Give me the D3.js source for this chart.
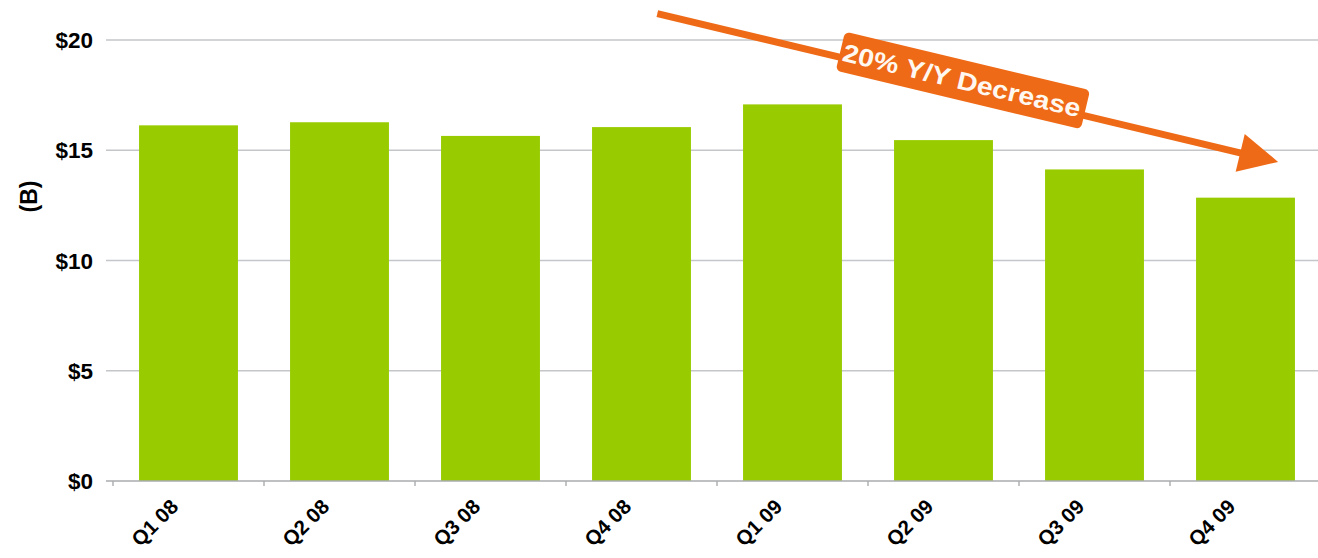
<!DOCTYPE html>
<html>
<head>
<meta charset="utf-8">
<script src="https://cdn.jsdelivr.net/npm/d3@7"></script>
<style>
  body { margin: 0; background: #ffffff; }
  svg { display: block; }
  text { font-family: "Liberation Sans", Arial, sans-serif; font-weight: bold; }
</style>
</head>
<body>
<svg id="chart" width="1318" height="558"></svg>
<script>
// Quarterly revenue, billions of dollars
const quarters = ["Q1 08", "Q2 08", "Q3 08", "Q4 08", "Q1 09", "Q2 09", "Q3 09", "Q4 09"];
const revenue = [16.13, 16.27, 15.65, 16.05, 17.08, 15.46, 14.13, 12.85];
const yTicks = [0, 5, 10, 15, 20];
const yTickLabels = ["$0", "$5", "$10", "$15", "$20"];
const yAxisTitle = "(B)";

// Trend annotation: arrow endpoints given as (quarter, fraction of bar width, value)
const trendLabel = "20% Y/Y Decrease";
const trendStart = { quarter: "Q4 08", at: 0.66, value: 21.2 };
const trendEnd = { quarter: "Q4 09", at: 0.83, value: 14.47 };

const svg = d3.select("#chart");
const plotLeft = 113, plotRight = 1321, plotTop = 40, plotBottom = 481;

const x = d3.scaleBand()
  .domain(quarters)
  .range([plotLeft, plotRight])
  .paddingInner(0.345)
  .paddingOuter(0.1725);

const y = d3.scaleLinear()
  .domain([0, 20])
  .range([plotBottom, plotTop]);

// Horizontal gridlines
svg.append("g")
  .selectAll("line")
  .data(yTicks.filter(t => t > 0))
  .join("line")
  .attr("x1", plotLeft - 7)
  .attr("x2", 1318)
  .attr("y1", d => y(d))
  .attr("y2", d => y(d))
  .attr("stroke", "#c4c6c9")
  .attr("stroke-width", 1.3);

// Y tick labels
svg.append("g")
  .selectAll("text")
  .data(yTicks)
  .join("text")
  .attr("x", 93)
  .attr("y", d => y(d))
  .attr("dy", "0.36em")
  .attr("text-anchor", "end")
  .attr("font-size", 22.5)
  .attr("fill", "#000")
  .text((d, i) => yTickLabels[i]);

// Y axis title
svg.append("text")
  .attr("transform", `translate(37, ${y(12.9)}) rotate(-90)`)
  .attr("text-anchor", "middle")
  .attr("font-size", 23)
  .attr("fill", "#000")
  .text(yAxisTitle);

// Bars
svg.append("g")
  .selectAll("rect")
  .data(revenue)
  .join("rect")
  .attr("x", (d, i) => x(quarters[i]))
  .attr("y", d => y(d))
  .attr("width", x.bandwidth())
  .attr("height", d => y(0) - y(d))
  .attr("fill", "#99cc00");

// Category axis baseline with ticks at band boundaries
const step = x.step();
const boundaries = d3.range(quarters.length + 1).map(i => plotLeft + i * step);
svg.append("line")
  .attr("x1", plotLeft - 7).attr("x2", 1318)
  .attr("y1", y(0)).attr("y2", y(0))
  .attr("stroke", "#a9abae").attr("stroke-width", 1.6);
svg.append("g")
  .selectAll("line")
  .data(boundaries)
  .join("line")
  .attr("x1", d => d).attr("x2", d => d)
  .attr("y1", y(0)).attr("y2", y(0) + 5)
  .attr("stroke", "#a9abae").attr("stroke-width", 1.4);

// Category labels, rotated
svg.append("g")
  .selectAll("text")
  .data(quarters)
  .join("text")
  .attr("transform", d => `translate(${x(d) + x.bandwidth() / 2 - 9}, 508) rotate(-45)`)
  .attr("text-anchor", "end")
  .attr("font-size", 20.5)
  .attr("fill", "#000")
  .text(d => d);

// Trend arrow with label
const orange = "#ef6a16";
const x0 = x(trendStart.quarter) + x.bandwidth() * trendStart.at;
const y0 = y(trendStart.value);
const x1 = x(trendEnd.quarter) + x.bandwidth() * trendEnd.at;
const y1 = y(trendEnd.value);
const len = Math.hypot(x1 - x0, y1 - y0);
const angle = Math.atan2(y1 - y0, x1 - x0) * 180 / Math.PI;
const headLen = 39, headHalf = 19.5, shaft = 7;

const arrow = svg.append("g")
  .attr("transform", `translate(${x0}, ${y0}) rotate(${angle})`);
arrow.append("rect")
  .attr("x", 0).attr("y", -shaft / 2)
  .attr("width", len - headLen + 2).attr("height", shaft)
  .attr("fill", orange);
arrow.append("path")
  .attr("d", `M${len - headLen},${-headHalf} L${len},0 L${len - headLen},${headHalf} Z`)
  .attr("fill", orange);

const boxW = 252, boxH = 40, boxAlong = len * 0.49, boxOff = -6;
arrow.append("rect")
  .attr("x", boxAlong - boxW / 2)
  .attr("y", boxOff - boxH / 2)
  .attr("width", boxW).attr("height", boxH)
  .attr("rx", 5)
  .attr("fill", orange);
arrow.append("text")
  .attr("x", boxAlong - 1)
  .attr("y", boxOff)
  .attr("dy", "0.36em")
  .attr("text-anchor", "middle")
  .attr("font-size", 25)
  .attr("textLength", 244)
  .attr("lengthAdjust", "spacingAndGlyphs")
  .attr("fill", "#fff8f0")
  .text(trendLabel);
</script>
</body>
</html>
